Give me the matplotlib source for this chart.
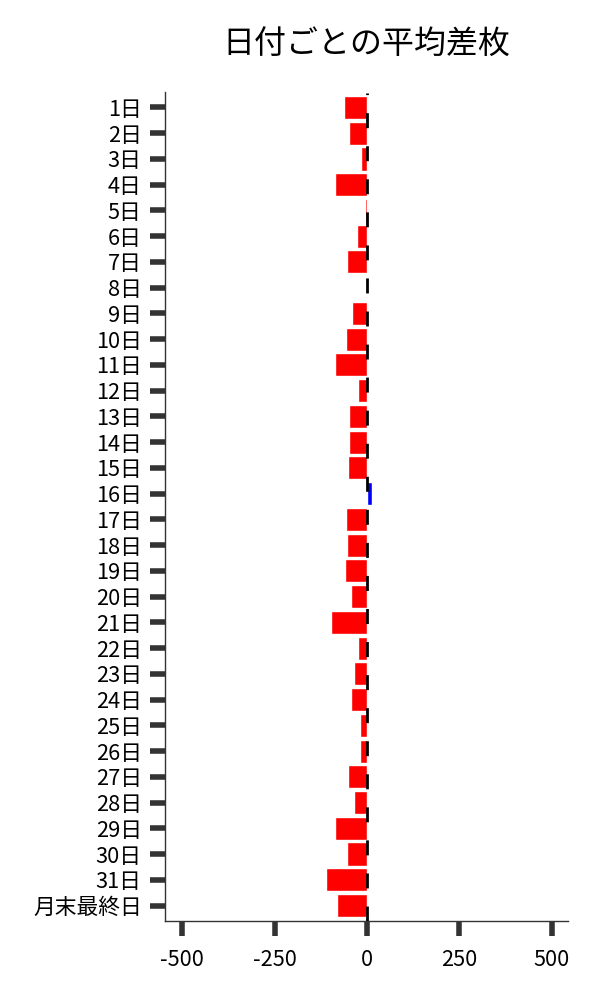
import matplotlib
matplotlib.use("Agg")
import matplotlib.pyplot as plt

plt.rcParams['font.family'] = ['Noto Sans CJK JP', 'DejaVu Sans']

# 日付ごとの平均差枚
days = [f"{d}日" for d in range(1, 32)] + ["月末最終日"]
avg_diff = [-61, -48, -15, -86, -5, -26, -53, 0, -40, -56,
            -86, -24, -48, -48, -51, 14, -56, -53, -59, -43,
            -97, -24, -34, -43, -18, -18, -51, -34, -86, -53,
            -110, -80]
xticks = [-500, -250, 0, 250, 500]

colors = ['blue' if v > 0 else 'red' for v in avg_diff]

fig = plt.figure(figsize=(6, 10), dpi=100)
ax = fig.add_axes([0.275, 0.0795, 0.672, 0.828])

ax.barh(range(len(days)), avg_diff, height=0.9, color=colors,
        edgecolor='white', linewidth=1, zorder=2)
ax.axvline(0, color='black', linewidth=2, linestyle=(0, (5.4, 6.5)), zorder=3)

ax.set_yticks(range(len(days)))
ax.set_yticklabels(days)
ax.set_ylim(len(days) - 1 + 0.58, -0.58)
ax.set_xlim(-547, 545)
ax.set_xticks(xticks)
ax.set_xticklabels([str(t) for t in xticks])

ax.tick_params(axis='both', length=10.8, width=4, color='#333333',
               labelsize=15.7)
ax.tick_params(axis='x', pad=9.5)
ax.tick_params(axis='y', pad=6)
for s in ['top', 'right']:
    ax.spines[s].set_visible(False)
for s in ['left', 'bottom']:
    ax.spines[s].set_color('#333333')
    ax.spines[s].set_linewidth(1)

ax.set_title("日付ごとの平均差枚", fontsize=23, pad=28)

plt.savefig("out.png", dpi=100)
